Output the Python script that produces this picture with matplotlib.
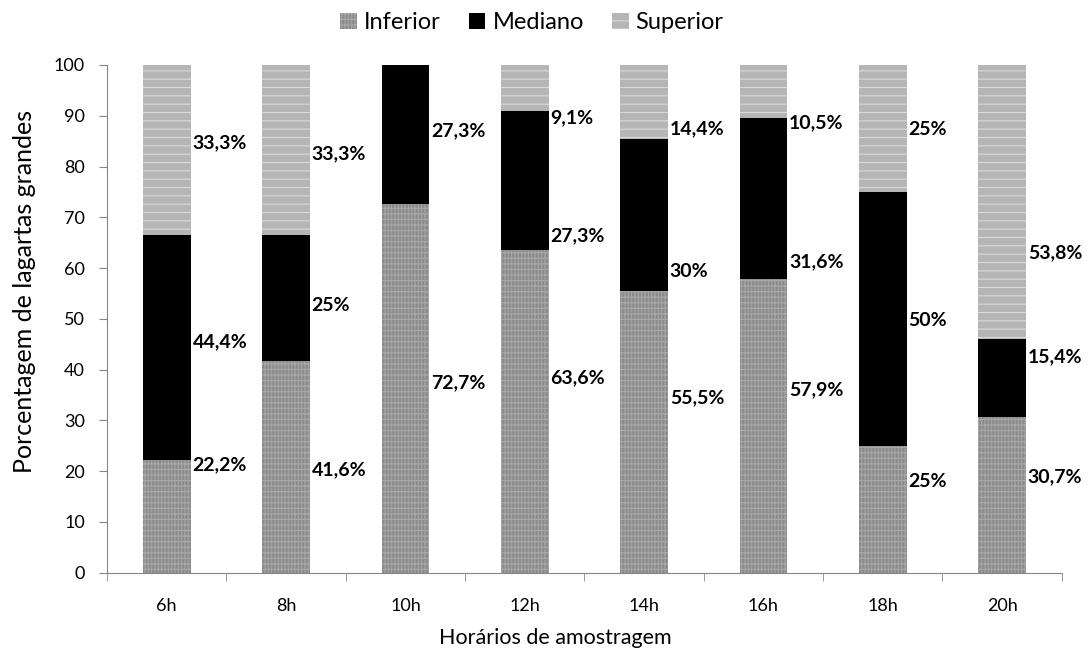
import numpy as np
import matplotlib.pyplot as plt

plt.rcParams['font.family'] = ['Lato', 'DejaVu Sans']
plt.rcParams['hatch.linewidth'] = 0.8

horarios = ["6h", "8h", "10h", "12h", "14h", "16h", "18h", "20h"]
inferior = [22.2, 41.6, 72.7, 63.6, 55.5, 57.9, 25.0, 30.7]
mediano = [44.4, 25.0, 27.3, 27.3, 30.0, 31.6, 50.0, 15.4]
superior = [33.3, 33.3, 0.0, 9.1, 14.4, 10.5, 25.0, 53.8]

lab_inf = ["22,2%", "41,6%", "72,7%", "63,6%", "55,5%", "57,9%", "25%", "30,7%"]
lab_med = ["44,4%", "25%", "27,3%", "27,3%", "30%", "31,6%", "50%", "15,4%"]
lab_sup = ["33,3%", "33,3%", "", "9,1%", "14,4%", "10,5%", "25%", "53,8%"]

# where the labels sit
y_inf = [21.2, 20.2, 37.4, 38.4, 34.4, 36.0, 17.9, 18.9]
y_med = [45.4, 52.7, 87.0, 66.3, 59.4, 61.2, 49.6, 42.5]
y_sup = [84.6, 82.6, None, 89.6, 87.4, 88.6, 87.2, 63.1]

x = np.arange(len(horarios))
inf = np.array(inferior)
med = np.array(mediano)
sup = np.array(superior)

fig = plt.figure(figsize=(10.89, 6.53), dpi=100)
ax = fig.add_axes([0.0983, 0.123, 0.8767, 0.7775])

w = 0.4
ax.bar(x, inf, w, color='#8a8a8a', edgecolor='#a8a8a8', hatch='|||||---',
       linewidth=0, label='Inferior')
ax.bar(x, med, w, bottom=inf, color='black', linewidth=0, label='Mediano')
ax.bar(x, sup, w, bottom=inf + med, color='#b5b5b5', edgecolor='#dadada',
       hatch='--', linewidth=0, label='Superior')

for i in range(len(x)):
    for lab, yy in ((lab_inf[i], y_inf[i]), (lab_med[i], y_med[i]), (lab_sup[i], y_sup[i])):
        if lab:
            ax.text(x[i] + w / 2 + 0.015, yy, lab, ha='left', va='center',
                    fontsize=14, fontweight='bold')

ax.set_xlim(-0.5, len(x) - 0.5)
ax.set_ylim(0, 100)
ax.set_yticks(range(0, 101, 10))
ax.set_xticks(x)
ax.set_xticklabels(horarios)
ax.set_xticks(np.arange(-0.5, len(x), 1), minor=True)
ax.tick_params(axis='x', which='major', length=0, pad=18, labelsize=13)
ax.tick_params(axis='x', which='minor', length=6, color='#868686')
ax.tick_params(axis='y', length=6, color='#868686', labelsize=13, pad=10)

for s in ['top', 'right']:
    ax.spines[s].set_visible(False)
for s in ['left', 'bottom']:
    ax.spines[s].set_color('#868686')

ax.set_ylabel('Porcentagem de lagartas grandes', fontsize=18)
ax.yaxis.set_label_coords(-0.074, 0.554)
ax.set_xlabel('Horários de amostragem', fontsize=15.5)
ax.xaxis.set_label_coords(0.469, -0.108)

ax.legend(loc='center', bbox_to_anchor=(0.445, 1.083), ncol=3, frameon=False,
          fontsize=17, handlelength=0.7, handleheight=0.7, handletextpad=0.3,
          columnspacing=1.2)

plt.savefig('out.png', dpi=100)
